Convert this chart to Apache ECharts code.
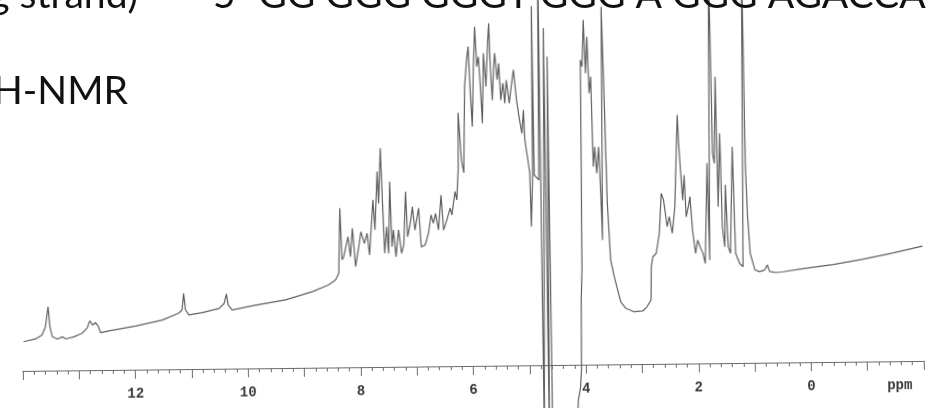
<!DOCTYPE html>
<html>
<head>
<meta charset="utf-8">
<script src="https://cdn.jsdelivr.net/npm/echarts@6/dist/echarts.min.js"></script>
<style>
  html, body { margin: 0; padding: 0; background: #ffffff; overflow: hidden; width: 932px; height: 408px; position: relative; }
  /* the recorder paper sits slightly skewed on the page */
  #spectrum { position: absolute; left: 0; top: -20px; width: 932px; height: 448px; transform: rotate(-0.636deg); }
  #captions { position: absolute; left: 0; top: 0; width: 932px; height: 408px; }
</style>
</head>
<body>
<div id="spectrum"></div>
<div id="captions"></div>
<script>
// 1H-NMR trace: chemical shift (ppm) and signal intensity (arbitrary units)
const shiftPpm = [
  13.98, 13.77, 13.65, 13.59, 13.54, 13.51, 13.47, 13.38, 13.29, 13.23,
  13.08, 12.94, 12.85, 12.80, 12.75, 12.70, 12.65, 12.61, 12.46, 11.99,
  11.51, 11.22, 11.16, 11.13, 11.10, 11.04, 10.80, 10.50, 10.41, 10.37,
  10.34, 10.27, 9.91, 9.32, 8.84, 8.55, 8.43, 8.37, 8.34, 8.31,
  8.28, 8.24, 8.20, 8.16, 8.12, 8.07, 8.01, 7.97, 7.91, 7.86,
  7.82, 7.75, 7.72, 7.67, 7.65, 7.61, 7.58, 7.55, 7.51, 7.48,
  7.45, 7.42, 7.39, 7.35, 7.30, 7.25, 7.21, 7.17, 7.14, 7.09,
  7.05, 7.01, 6.94, 6.90, 6.83, 6.77, 6.72, 6.68, 6.64, 6.59,
  6.54, 6.50, 6.44, 6.38, 6.35, 6.29, 6.26, 6.23, 6.22, 6.17,
  6.13, 6.10, 6.06, 6.03, 6.00, 5.97, 5.94, 5.91, 5.88, 5.85,
  5.82, 5.79, 5.76, 5.72, 5.68, 5.66, 5.64, 5.61, 5.58, 5.56,
  5.52, 5.49, 5.46, 5.42, 5.39, 5.36, 5.31, 5.28, 5.23, 5.18,
  5.14, 5.09, 5.06, 5.04, 4.99, 4.96, 4.94, 4.91, 4.90, 4.88,
  4.80, 4.78, 4.75, 4.69, 4.66, 4.63, 4.60, 4.39, 4.16, 4.14,
  4.10, 4.08, 4.07, 4.05, 4.04, 4.01, 3.98, 3.95, 3.92, 3.89,
  3.86, 3.83, 3.80, 3.77, 3.73, 3.70, 3.68, 3.66, 3.62, 3.59,
  3.54, 3.48, 3.37, 3.28, 3.13, 2.98, 2.90, 2.83, 2.82, 2.79,
  2.73, 2.67, 2.63, 2.59, 2.53, 2.49, 2.44, 2.39, 2.36, 2.33,
  2.31, 2.28, 2.25, 2.22, 2.19, 2.15, 2.12, 2.08, 2.03, 1.99,
  1.95, 1.90, 1.86, 1.81, 1.78, 1.75, 1.71, 1.68, 1.65, 1.62,
  1.58, 1.55, 1.51, 1.49, 1.45, 1.41, 1.36, 1.32, 1.25, 1.19,
  1.16, 1.13, 1.10, 1.06, 0.98, 0.90, 0.81, 0.76, 0.72, 0.60,
  0.48, 0.12, -0.41, -0.94, -1.48, -2.00
];
const intensity = [
  8.0, 8.7, 9.8, 12.0, 17.5, 12.0, 9.3, 8.6, 9.2, 8.6,
  9.2, 10.1, 11.5, 13.5, 12.3, 13.0, 11.9, 10.2, 10.7, 11.9,
  13.5, 15.3, 16.2, 20.7, 16.2, 14.8, 15.4, 16.5, 17.9, 20.4,
  17.4, 16.0, 17.1, 18.6, 20.8, 22.6, 23.9, 25.7, 43.5, 29.4,
  30.2, 33.0, 35.7, 30.2, 38.0, 27.5, 32.9, 37.0, 33.8, 36.6,
  30.6, 45.7, 37.5, 53.4, 44.7, 59.8, 44.7, 31.1, 38.3, 31.0,
  50.6, 32.8, 37.4, 30.1, 37.4, 31.0, 33.3, 47.8, 35.5, 39.2,
  43.7, 37.3, 43.3, 32.7, 33.2, 36.4, 41.4, 39.1, 41.8, 37.3,
  46.8, 37.2, 40.0, 43.2, 41.3, 47.7, 45.4, 53.6, 69.2, 56.3,
  52.8, 76.3, 83.6, 87.3, 74.6, 65.4, 81.8, 92.7, 81.8, 84.5,
  76.3, 66.3, 85.4, 76.3, 89.0, 93.6, 81.7, 72.6, 81.7, 85.4,
  78.1, 82.6, 72.6, 77.2, 71.7, 78.0, 71.7, 75.3, 80.8, 72.5,
  68.0, 63.4, 69.8, 61.6, 56.1, 52.6, 37.9, 51.5, 98.2, 52.0,
  50.6, 116, -23, 92.1, -23, 84.3, -23, -29, -15.1, -9.6,
  -6.3, -1.4, 17.7, 26.8, 83.3, 81.5, 94.2, 79.6, 89.6, 74.2,
  78.7, 54.1, 59.5, 52.3, 59.5, 45.0, 34.0, 97.8, 69.5, 44.9,
  28.5, 24.0, 17.1, 15.3, 14.3, 14.5, 15.7, 17.5, 26.6, 29.3,
  30.2, 35.7, 46.6, 44.8, 37.5, 40.2, 35.6, 42.9, 55.7, 68.0,
  60.2, 52.0, 44.7, 51.5, 40.1, 42.9, 45.6, 36.5, 30.1, 33.7,
  31.9, 30.1, 27.3, 54.7, 28.2, 112, 57.4, 54.6, 78.3, 42.8,
  62.8, 37.3, 31.8, 48.7, 31.8, 30.0, 59.1, 30.0, 27.2, 26.3,
  112, 53.6, 40.0, 29.9, 25.4, 24.9, 25.3, 26.7, 24.9, 24.6,
  24.8, 25.6, 26.6, 28.0, 29.6, 31.4
];

// shift-axis labels and unit
const tickLabels = [12, 10, 8, 6, 4, 2, 0];
const axisUnit = 'ppm';
const axisUnitAt = -1.57;

// slide captions
const strandText = '(coding strand)';
const sequenceText = "5'-GG GGG GGGT GGG A GGG AGACCA";
const methodText = '\u00B9H-NMR';

const inkGray = '#6a6a6a';
const labelFont = 'Liberation Mono';

function shiftLabel(v) {
  const n = Math.round(Number(v));
  if (Math.abs(Number(v) - n) > 1e-6) return '';
  return tickLabels.indexOf(n) >= 0 ? String(n) : '';
}

const spec = echarts.init(document.getElementById('spectrum'), null, { renderer: 'canvas' });
spec.setOption({
  animation: false,
  backgroundColor: 'transparent',
  // the shift axis runs along the grid's lower edge; the trace may dip below it
  grid: { left: 21, right: 10, top: 0, bottom: 62, containLabel: false, outerBoundsMode: 'none' },
  xAxis: {
    type: 'value',
    inverse: true,
    min: -2,
    max: 14,
    interval: 1,
    axisLine: { onZero: false, lineStyle: { color: inkGray, width: 1 } },
    axisTick: { show: true, length: 9, lineStyle: { color: inkGray, width: 1 } },
    minorTick: { show: true, splitNumber: 5, length: 4, lineStyle: { color: inkGray, width: 1 } },
    splitLine: { show: false },
    minorSplitLine: { show: false },
    axisLabel: {
      show: true,
      margin: 17,
      fontFamily: labelFont,
      fontWeight: 'bold',
      fontSize: 14,
      color: '#3a3a3a',
      formatter: shiftLabel
    }
  },
  yAxis: {
    type: 'value',
    min: 0,
    max: 105.5,
    axisLine: { show: false },
    axisTick: { show: false },
    axisLabel: { show: false },
    splitLine: { show: false }
  },
  series: [{
    type: 'line',
    data: shiftPpm.map((p, i) => [p, intensity[i]]),
    symbol: 'none',
    showSymbol: false,
    clip: false,
    lineStyle: { color: '#606060', width: 1.2 }
  }]
});

// unit label on the shift axis
const unitPos = spec.convertToPixel({ gridIndex: 0 }, [axisUnitAt, 0]);
spec.setOption({
  graphic: [{
    type: 'text',
    x: unitPos[0],
    y: unitPos[1] + 17,
    style: {
      text: axisUnit, fontFamily: labelFont, fontWeight: 'bold', fontSize: 14,
      fill: '#3a3a3a', align: 'center', verticalAlign: 'top'
    }
  }]
});

// captions above the spectrum, sized so the sequence spans its line
const measure = document.createElement('canvas').getContext('2d');
function textWidth(t, size, family) {
  measure.font = size + 'px ' + family;
  return measure.measureText(t).width;
}
const capFamily = 'Lato';
const capSize = 45 * 713 / textWidth(sequenceText, 45, capFamily);
const midK = 0.36;
const capStyle = { fontFamily: capFamily, fontSize: capSize, fill: '#111111', verticalAlign: 'middle' };

const cap = echarts.init(document.getElementById('captions'), null, { renderer: 'canvas' });
cap.setOption({
  animation: false,
  backgroundColor: 'transparent',
  graphic: [
    { type: 'text', x: 138, y: 9 - midK * capSize, style: Object.assign({ text: strandText, align: 'right' }, capStyle) },
    { type: 'text', x: 213, y: 9 - midK * capSize, style: Object.assign({ text: sequenceText, align: 'left' }, capStyle) },
    { type: 'text', x: 128, y: 105 - midK * capSize, style: Object.assign({ text: methodText, align: 'right' }, capStyle) }
  ]
});
</script>
</body>
</html>
